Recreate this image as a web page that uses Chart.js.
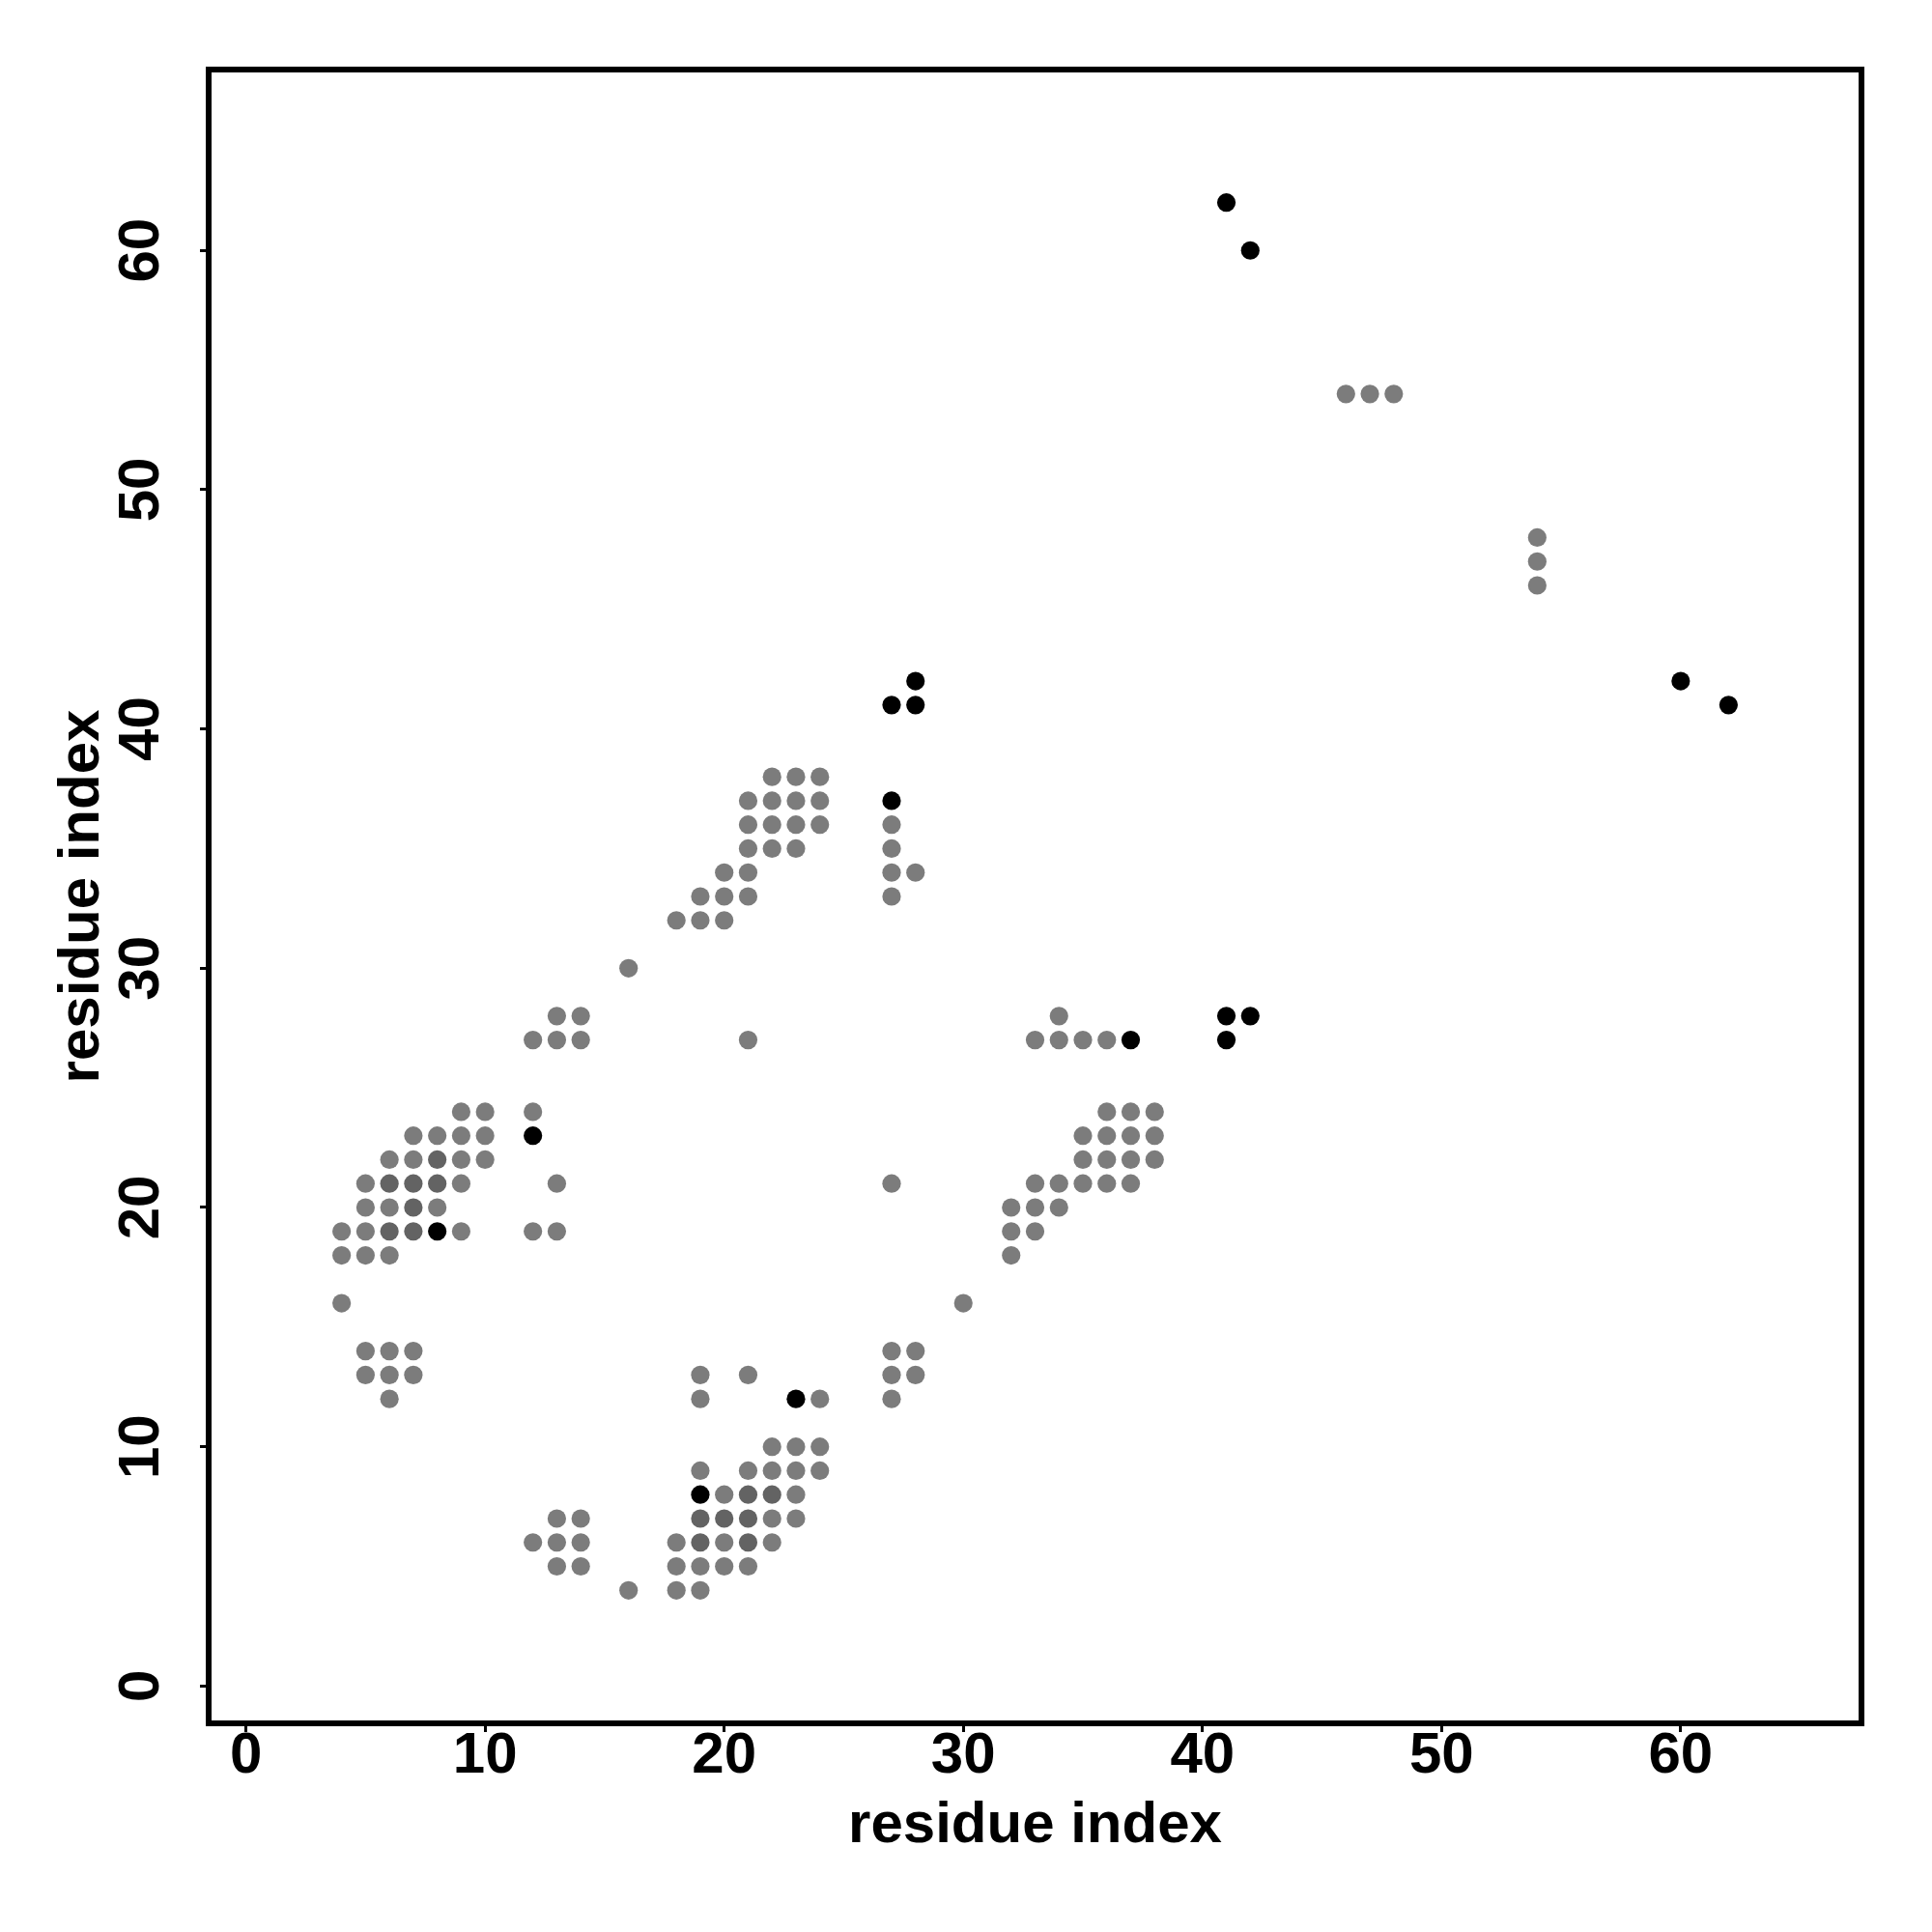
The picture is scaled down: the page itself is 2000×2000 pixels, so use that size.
<!DOCTYPE html>
<html>
<head>
<meta charset="utf-8">
<title>contact map</title>
<script src="https://cdn.jsdelivr.net/npm/chart.js"></script>
<style>
  body { margin: 0; background: #ffffff; }
  canvas { display: block; }
</style>
</head>
<body>
<canvas id="myChart" width="2000" height="2000"></canvas>
<script>
// tick labels (same for both axes)
const tickValues = [0, 10, 20, 30, 40, 50, 60];
const axisMin = -1.56;
const axisMax = 67.56;

// gray contacts, row by row from the top
const grayX = [46,47,48, 54,54,54, 22,23,24, 21,22,23,24, 21,22,23,24,27, 21,22,23,27,
  20,21,27,28, 19,20,21,27, 18,19,20, 16, 13,14,34, 12,13,14,21,33,34,35,36,
  9,10,12,36,37,38, 7,8,9,10,35,36,37,38, 6,7,9,10,35,36,37,38,
  5,9,13,27,33,34,35,36,37, 5,6,8,32,33,34, 4,5,9,12,13,32,33, 4,5,6,32, 4,30,
  5,6,7,27,28, 5,6,7,19,21,27,28, 6,19,24,27, 22,23,24, 19,21,22,23,24, 20,23,
  13,14,22,23, 12,13,14,18,20,22, 13,14,18,19,20,21, 16,18,19];
const grayY = [54,54,54, 48,47,46, 38,38,38, 37,37,37,37, 36,36,36,36,36, 35,35,35,35,
  34,34,34,34, 33,33,33,33, 32,32,32, 30, 28,28,28, 27,27,27,27,27,27,27,27,
  24,24,24,24,24,24, 23,23,23,23,23,23,23,23, 22,22,22,22,22,22,22,22,
  21,21,21,21,21,21,21,21,21, 20,20,20,20,20,20, 19,19,19,19,19,19,19, 18,18,18,18, 16,16,
  14,14,14,14,14, 13,13,13,13,13,13,13, 12,12,12,12, 10,10,10, 9,9,9,9,9, 8,8,
  7,7,7,7, 6,6,6,6,6,6, 5,5,5,5,5,5, 4,4,4];

// darker gray contacts
const darkX = [6,7,7,6,7,8,8, 19,19,20,21,21,21,22];
const darkY = [19,19,20,21,21,21,22, 6,7,7,6,7,8,8];

// black contacts
const blackX = [41,42,60,62, 27,28,28, 41,41,42, 27,37, 12,23, 8,19];
const blackY = [62,60,42,41, 41,42,41, 27,28,28, 37,27, 23,12, 19,8];

function toPoints(xs, ys) {
  var pts = [];
  for (var i = 0; i < xs.length; i++) {
    pts.push({ x: xs[i], y: ys[i] });
  }
  return pts;
}

// frame around the plot area
const boxPlugin = {
  id: "box",
  afterDraw: function(chart) {
    var a = chart.chartArea;
    var ctx = chart.ctx;
    ctx.save();
    ctx.strokeStyle = "#000";
    ctx.lineWidth = 6;
    ctx.strokeRect(a.left, a.top, a.right - a.left, a.bottom - a.top);
    ctx.restore();
  }
};

const labelFont = { family: "'Liberation Sans', Arial, sans-serif", size: 60, weight: "bold", lineHeight: 0.8 };

function setTicks(scale) {
  scale.ticks = tickValues.map(function(v) { return { value: v }; });
}

new Chart("myChart", {
  type: "scatter",
  data: {
    datasets: [{
      data: toPoints(blackX, blackY),
      backgroundColor: "#000000",
      order: 0
    }, {
      data: toPoints(darkX, darkY),
      backgroundColor: "#636363",
      order: 1
    }, {
      data: toPoints(grayX, grayY),
      backgroundColor: "#7c7c7c",
      order: 2
    }]
  },
  options: {
    responsive: false,
    animation: false,
    devicePixelRatio: 1,
    layout: { padding: { left: 0, right: 73, top: 72, bottom: 0 } },
    elements: {
      point: { radius: 9.6, hoverRadius: 9.6, borderWidth: 0 }
    },
    plugins: {
      legend: { display: false },
      tooltip: { enabled: false }
    },
    scales: {
      x: {
        type: "linear",
        min: axisMin,
        max: axisMax,
        afterBuildTicks: setTicks,
        afterFit: function(scale) { scale.height = 216; },
        border: { display: false },
        grid: { drawOnChartArea: false, drawTicks: true, tickLength: 9, tickWidth: 3, tickColor: "#000" },
        ticks: { color: "#000", font: labelFont, padding: 1, autoSkip: false, maxRotation: 0 },
        title: {
          display: true,
          text: "residue index",
          color: "#000",
          font: { family: "'Liberation Sans', Arial, sans-serif", size: 60, weight: "bold" },
          padding: { top: 0, bottom: 74 }
        }
      },
      y: {
        type: "linear",
        min: axisMin,
        max: axisMax,
        afterBuildTicks: setTicks,
        afterFit: function(scale) { scale.width = 216; },
        border: { display: false },
        grid: { drawOnChartArea: false, drawTicks: true, tickLength: 9, tickWidth: 3, tickColor: "#000" },
        ticks: { color: "#000", font: labelFont, padding: 26, autoSkip: false, minRotation: 90, maxRotation: 90, crossAlign: "center" },
        title: {
          display: true,
          text: "residue index",
          color: "#000",
          font: { family: "'Liberation Sans', Arial, sans-serif", size: 60, weight: "bold" },
          padding: { top: 49, bottom: 0 }
        }
      }
    }
  },
  plugins: [boxPlugin]
});
</script>
</body>
</html>
